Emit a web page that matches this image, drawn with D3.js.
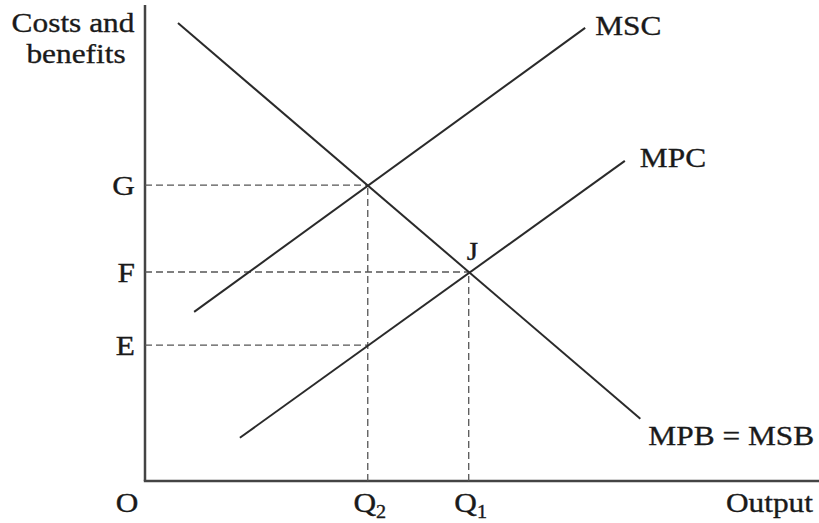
<!DOCTYPE html>
<html>
<head>
<meta charset="utf-8">
<script src="https://cdn.jsdelivr.net/npm/d3@7"></script>
<style>
  html, body { margin: 0; padding: 0; background: #fff; }
  svg text { font-family: "Liberation Serif", "Times New Roman", serif; fill: #1a1a1a; stroke: #1a1a1a; stroke-width: 0.35; }
</style>
</head>
<body>
<svg id="chart" width="819" height="523"></svg>
<script>
// Data (abstract units: x = output, y = costs and benefits)
const curveNames = ["MPB = MSB", "MSC", "MPC"];
const curveStart = [[4.9, 96.4], [7.3, 35.6], [14.1, 9.1]];
const curveEnd   = [[73.6, 13.1], [65.4, 95.4], [71.3, 67.4]];
const yLevelLabels = ["G", "F", "E"];
const yLevelValues = [62.3, 44.0, 28.6];
const yLevelToX    = [33.1, 48.1, 33.1];
const xLevelLabels = ["Q2", "Q1"];
const xLevelValues = [33.1, 48.1];
const xLevelToY    = [62.3, 44.0];
const pointLabel = "J";
const pointValue = [48.1, 44.0];

const svg = d3.select("#chart");
const x = d3.scaleLinear().domain([0, 100]).range([145, 818]);
const y = d3.scaleLinear().domain([0, 100]).range([481, 6]);
const ink = "#2a2a2a";
const fs = 28;
const sx = 1.12;

// text helper with horizontal stretch
function label(px, py, anchor, size) {
  return svg.append("text")
    .attr("transform", `translate(${px},${py}) scale(${sx},1)`)
    .attr("text-anchor", anchor).attr("font-size", size);
}

// axes
svg.append("line").attr("x1", x(0)).attr("y1", y(0)).attr("x2", x(0)).attr("y2", y(100.2))
  .attr("stroke", "#444").attr("stroke-width", 2.5);
svg.append("line").attr("x1", x(0) - 1.2).attr("y1", y(0)).attr("x2", x(100.2)).attr("y2", y(0))
  .attr("stroke", "#444").attr("stroke-width", 2.5);

// dashed guides
yLevelValues.forEach((v, i) => {
  svg.append("line").attr("x1", x(0)).attr("x2", x(yLevelToX[i]))
    .attr("y1", y(v)).attr("y2", y(v))
    .attr("stroke", "#555").attr("stroke-width", 1.3).attr("stroke-dasharray", "7,4");
  label(x(0) - 10, y(v) + 10, "end", fs).text(yLevelLabels[i]);
});
xLevelValues.forEach((v, i) => {
  svg.append("line").attr("x1", x(v)).attr("x2", x(v))
    .attr("y1", y(0)).attr("y2", y(xLevelToY[i]))
    .attr("stroke", "#555").attr("stroke-width", 1.3).attr("stroke-dasharray", "7,4");
  const t = label(x(v) + 2, 512, "middle", fs);
  t.append("tspan").text(xLevelLabels[i][0]);
  t.append("tspan").attr("font-size", 18).attr("dy", 6).text(xLevelLabels[i].slice(1));
});

// curves
const line = d3.line().x(d => x(d[0])).y(d => y(d[1]));
curveNames.forEach((n, i) => {
  svg.append("path").attr("d", line([curveStart[i], curveEnd[i]]))
    .attr("fill", "none").attr("stroke", ink).attr("stroke-width", 2);
});

// curve labels
label(x(curveEnd[0][0]) + 8, y(curveEnd[0][1]) + 26, "start", fs).text(curveNames[0]);
label(x(curveEnd[1][0]) + 10, y(curveEnd[1][1]) + 7, "start", fs).text(curveNames[1]);
label(x(curveEnd[2][0]) + 15, y(curveEnd[2][1]) + 6, "start", fs).text(curveNames[2]);

// point label
label(x(pointValue[0]) - 2, y(pointValue[1]) - 12, "start", fs - 2).text(pointLabel);

// axis titles
label(73, 32, "middle", fs).text("Costs and");
label(76, 63, "middle", fs).text("benefits");
label(813, 512, "end", fs).text("Output");
label(127, 512, "middle", fs).text("O");
</script>
</body>
</html>
